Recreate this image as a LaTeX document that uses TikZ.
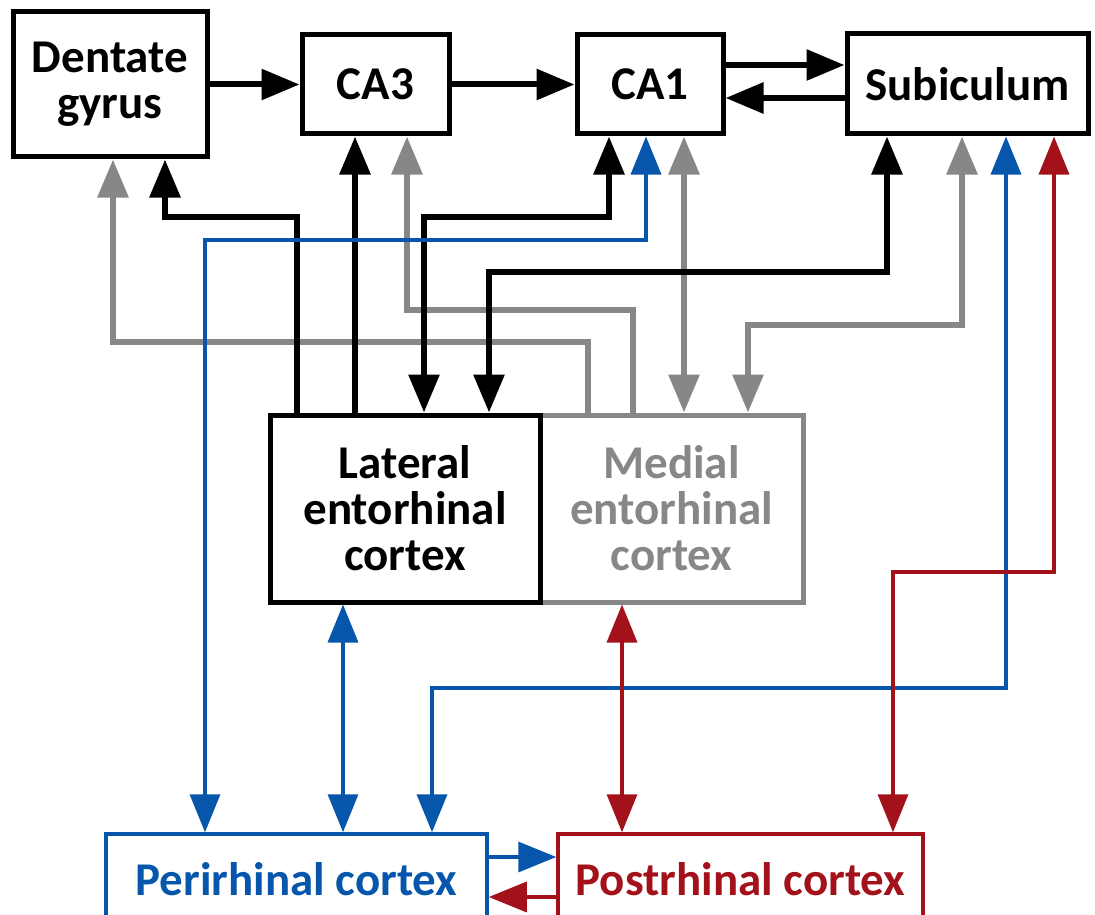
\documentclass[tikz,border=0pt]{standalone}
\usepackage{fontspec}
\setmainfont{Carlito}
\usetikzlibrary{arrows.meta}

\definecolor{hipgray}{HTML}{878787}
\definecolor{periblue}{HTML}{0656AB}
\definecolor{postred}{HTML}{A3121A}

\tikzset{
  region/.style={draw, line width=5pt, fill=white, align=center, inner sep=0pt,
    font=\fontsize{47}{46}\selectfont\bfseries},
  tip/.style={-{Triangle[length=38pt,width=30pt]}},
  bitip/.style={{Triangle[length=38pt,width=30pt]}-{Triangle[length=38pt,width=30pt]}},
  blk/.style={line width=6pt, black},
  gry/.style={line width=6pt, hipgray},
  blu/.style={line width=3.5pt, periblue},
  rd/.style={line width=3.5pt, postred}
}

\begin{document}
\begin{tikzpicture}[x=1pt,y=-1pt]
\useasboundingbox (0,0) rectangle (1095,915);

% Гиппокамп
\node[region, minimum width=194pt, minimum height=145pt] (dg) at (110,84.5) {Dentate\\gyrus};
\node[region, minimum width=147pt, minimum height=99pt] (ca3) at (375.5,84.5) {CA3};
\node[region, minimum width=146pt, minimum height=99pt] (ca1) at (650,84.5) {CA1};
\node[region, minimum width=241pt, minimum height=100pt] (sub) at (967.5,84) {Subiculum};

% Энторинальная кора
\node[region, draw=hipgray, text=hipgray, minimum width=263pt, minimum height=187pt] (mec) at (671.5,508.5) {Medial\\entorhinal\\cortex};
\node[region, minimum width=270pt, minimum height=187pt] (lec) at (405,508.5) {Lateral\\entorhinal\\cortex};

% Пери- и построфинальная кора
\node[region, line width=3.5pt, draw=periblue, text=periblue, minimum width=381pt, minimum height=90pt] (peri) at (296.5,879) {Perirhinal cortex};
\node[region, line width=3.5pt, draw=postred, text=postred, minimum width=365pt, minimum height=90pt] (post) at (740.5,879) {Postrhinal cortex};

% Основная цепь
\draw[blk, tip] (dg) -- (ca3);
\draw[blk, tip] (ca3) -- (ca1);
\draw[blk, tip] (ca1.east |- 0,65) -- (sub.west |- 0,65);
\draw[blk, tip] (sub.west |- 0,98) -- (ca1.east |- 0,98);

% Серые связи медиальной коры
\draw[gry, tip] (mec.north -| 588,0) |- (113,342) -- (dg.south -| 113,0);
\draw[gry, tip] (mec.north -| 633,0) |- (407,310) -- (ca3.south -| 407,0);
\draw[gry, bitip] (mec.north -| 684,0) -- (ca1.south -| 684,0);
\draw[gry, bitip] (mec.north -| 748,0) |- (962,325) -- (sub.south -| 962,0);

% Черные связи латеральной коры
\draw[blk, tip] (lec.north -| 297,0) |- (165,217) -- (dg.south -| 165,0);
\draw[blk, tip] (lec.north -| 355,0) -- (ca3.south -| 355,0);
\draw[blk, bitip] (lec.north -| 424,0) |- (609,217) -- (ca1.south -| 609,0);
\draw[blk, bitip] (lec.north -| 489,0) |- (887,272) -- (sub.south -| 887,0);

% Синие связи
\draw[blu, bitip] (peri.north -| 205,0) |- (646,240) -- (ca1.south -| 646,0);
\draw[blu, bitip] (peri.north -| 432,0) |- (1006,688) -- (sub.south -| 1006,0);
\draw[blu, bitip] (lec.south -| 343,0) -- (peri.north -| 343,0);
\draw[blu, tip] (peri.east |- 0,857) -- (post.west |- 0,857);

% Красные связи
\draw[rd, bitip] (post.north -| 893,0) |- (1054,572) -- (sub.south -| 1054,0);
\draw[rd, bitip] (mec.south -| 622,0) -- (post.north -| 622,0);
\draw[rd, tip] (post.west |- 0,897) -- (peri.east |- 0,897);

\end{tikzpicture}
\end{document}
